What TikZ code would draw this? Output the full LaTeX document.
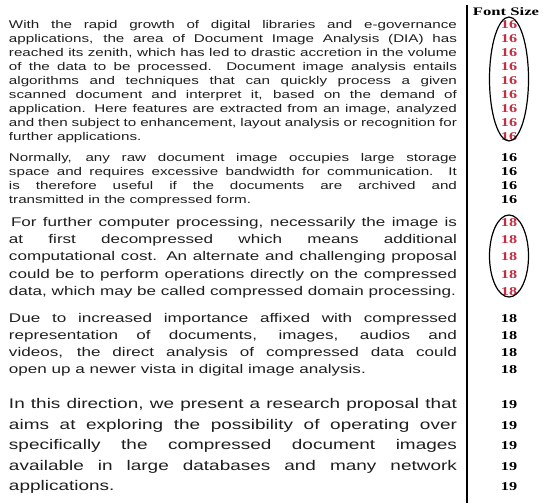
\documentclass[tikz,border=0pt]{standalone}
\usepackage{fontspec}
\setmainfont{Liberation Sans}
\newfontfamily\numfont{Liberation Serif}
\usetikzlibrary{positioning}
\definecolor{inkgray}{RGB}{30,30,30}
\definecolor{numred}{RGB}{196,46,66}
\newcommand{\parafont}[2]{\fontsize{#1}{#2}\selectfont\tolerance=10000\hyphenpenalty=10000\exhyphenpenalty=10000}
\tikzset{wide/.style={xscale=1.355, transform shape}}
\tikzset{dpara/.style={wide, anchor=base west, inner sep=0pt, outer sep=0pt, text width=330.6pt, align=justify, text=inkgray}}
\tikzset{fsnum/.style={wide, anchor=base, inner sep=0pt, font=\numfont\bfseries\fontsize{12}{12}\selectfont}}
\tikzset{ring/.style={draw=black, line width=1.2pt}}
\begin{document}
\begin{tikzpicture}[x=1pt, y=1pt]
\useasboundingbox (0,0) rectangle (545,-503);
% text column
\node[dpara, font=\parafont{11.2}{14}] (p1) at (9,-28.5) {With the rapid growth of digital libraries and e-governance\linebreak
applications, the area of Document Image Analysis (DIA) has\linebreak
reached its zenith, which has led to drastic accretion in the volume\linebreak
of the data to be processed. Document image analysis entails\linebreak
algorithms and techniques that can quickly process a given\linebreak
scanned document and interpret it, based on the demand of\linebreak
application. Here features are extracted from an image, analyzed\linebreak
and then subject to enhancement, layout analysis or recognition for\linebreak
further applications.};
\node[dpara, font=\parafont{11.2}{14}] (p2) at (9,-161.5) {Normally, any raw document image occupies large storage\linebreak
space and requires excessive bandwidth for communication. It\linebreak
is therefore useful if the documents are archived and\linebreak
transmitted in the compressed form.};
\node[dpara, font=\parafont{12.6}{17.2}] (p3) at (9,-226.5) {\hspace*{1.5pt}For further computer processing, necessarily the image is\linebreak
at first decompressed which means additional\linebreak
computational cost. An alternate and challenging proposal\linebreak
could be to perform operations directly on the compressed\linebreak
data, which may be called compressed domain processing.};
\node[dpara, font=\parafont{12.6}{17}] (p4) at (9,-322.5) {Due to increased importance affixed with compressed\linebreak
representation of documents, images, audios and\linebreak
videos, the direct analysis of compressed data could\linebreak
open up a newer vista in digital image analysis.};
\node[dpara, font=\parafont{14}{20.5}] (p5) at (9,-408.5) {In this direction, we present a research proposal that\linebreak
aims at exploring the possibility of operating over\linebreak
specifically the compressed document images\linebreak
available in large databases and many network\linebreak
applications.};
% font size column
\coordinate (rtop) at (467,-5);
\coordinate (rbot) at (467,-503);
\draw[line width=1.4pt] (rtop) -- (rbot);
\node[fsnum, xscale=1.07, font=\numfont\bfseries\fontsize{11.5}{12}\selectfont] (head) at (506,-16) {Font Size};
\foreach \k in {0,...,8}
  \node[fsnum, text=numred] (a\k) at (509,{-28.5-14*\k}) {16};
\foreach \k in {0,...,3}
  \node[fsnum] (b\k) at (509,{-161.5-14*\k}) {16};
\foreach \k in {0,...,4}
  \node[fsnum, text=numred] (c\k) at (509,{-226.5-17.2*\k}) {18};
\foreach \k in {0,...,3}
  \node[fsnum] (d\k) at (509,{-322.5-17*\k}) {18};
\foreach \k in {0,...,4}
  \node[fsnum] (e\k) at (509,{-408.5-20.5*\k}) {19};
\draw[ring] (509,-79) ellipse [x radius=19.5pt, y radius=62pt];
\draw[ring] (509,-256) ellipse [x radius=19.5pt, y radius=41pt];
\end{tikzpicture}
\end{document}
